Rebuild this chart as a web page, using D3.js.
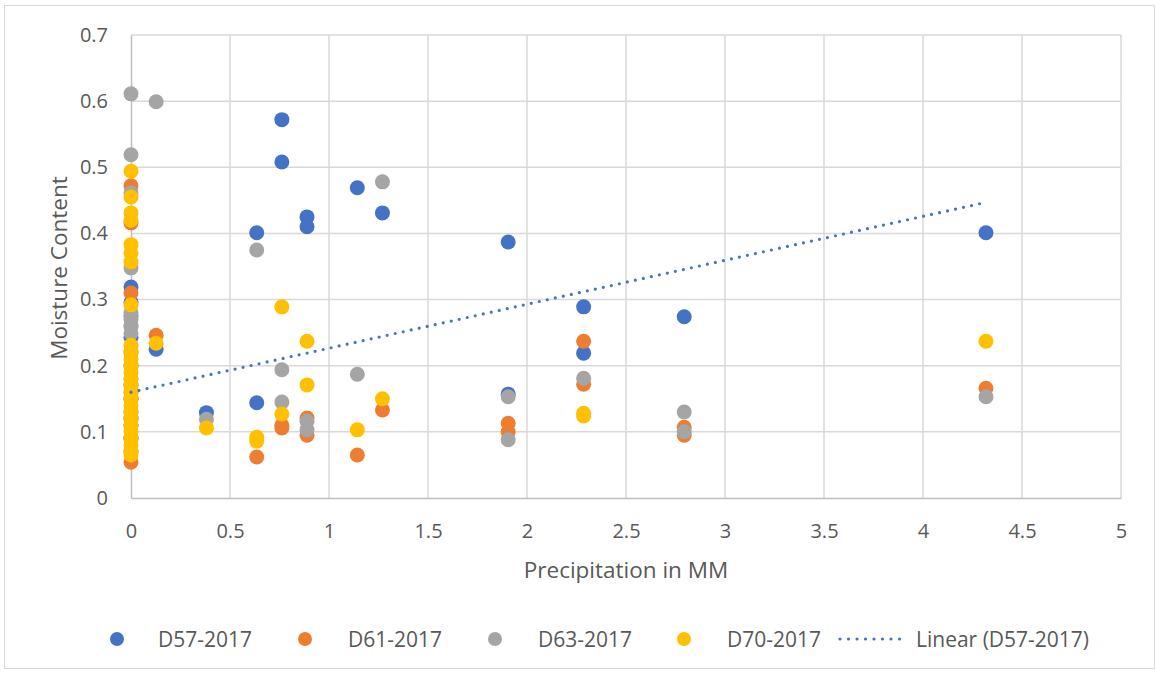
<!DOCTYPE html>
<html>
<head>
<meta charset="utf-8">
<script src="https://cdn.jsdelivr.net/npm/d3@7"></script>
<style>
  body { margin: 0; background: #fff; }
  text { font-family: "Open Sans", "Liberation Sans", sans-serif; fill: #595959; }
</style>
</head>
<body>
<div id="chart"></div>
<script>
// [precipitation mm, moisture content]
const d57 = [
  [0, 0.319], [0, 0.296], [0, 0.275], [0, 0.243], [0, 0.200], [0, 0.170], [0, 0.150], [0, 0.130], [0, 0.110], [0, 0.090],
  [0.127, 0.225], [0.381, 0.129], [0.635, 0.401], [0.635, 0.144],
  [0.762, 0.572], [0.762, 0.508], [0.889, 0.425], [0.889, 0.410],
  [1.143, 0.469], [1.27, 0.431], [1.905, 0.387], [1.905, 0.157],
  [2.286, 0.289], [2.286, 0.219], [2.794, 0.274], [4.318, 0.401]
];
const d61 = [
  [0, 0.472], [0, 0.416], [0, 0.310], [0, 0.260], [0, 0.220], [0, 0.180], [0, 0.150], [0, 0.120], [0, 0.090], [0, 0.070], [0, 0.054],
  [0.127, 0.246], [0.635, 0.062], [0.762, 0.110], [0.762, 0.106],
  [0.889, 0.121], [0.889, 0.095], [1.143, 0.065], [1.27, 0.133],
  [1.905, 0.113], [1.905, 0.100], [2.286, 0.237], [2.286, 0.172],
  [2.794, 0.107], [2.794, 0.095], [4.318, 0.166]
];
const d63 = [
  [0, 0.611], [0, 0.519], [0, 0.461], [0, 0.348], [0, 0.280], [0, 0.270], [0, 0.260], [0, 0.249], [0, 0.200], [0, 0.160], [0, 0.120], [0, 0.090],
  [0.127, 0.599], [0.381, 0.119], [0.635, 0.375], [0.762, 0.194], [0.762, 0.145],
  [0.889, 0.116], [0.889, 0.103], [1.143, 0.187], [1.27, 0.478],
  [1.905, 0.153], [1.905, 0.088], [2.286, 0.181], [2.794, 0.130], [2.794, 0.100], [4.318, 0.153]
];
const d70 = [
  [0, 0.494], [0, 0.455], [0, 0.431], [0, 0.420], [0, 0.383], [0, 0.370], [0, 0.357], [0, 0.292],
  [0, 0.231], [0, 0.220], [0, 0.210], [0, 0.200], [0, 0.190], [0, 0.180], [0, 0.170], [0, 0.160], [0, 0.150],
  [0, 0.140], [0, 0.130], [0, 0.120], [0, 0.110], [0, 0.100], [0, 0.090], [0, 0.080], [0, 0.070], [0, 0.065],
  [0.127, 0.234], [0.381, 0.106], [0.635, 0.092], [0.635, 0.086], [0.762, 0.289], [0.762, 0.127],
  [0.889, 0.237], [0.889, 0.171], [1.143, 0.103], [1.27, 0.150],
  [2.286, 0.128], [2.286, 0.124], [4.318, 0.237]
];
// Linear trendline of D57-2017, endpoints
const trendD57 = [[0, 0.160], [4.318, 0.447]];

const seriesNames = ["D57-2017", "D61-2017", "D63-2017", "D70-2017"];
const seriesData = [d57, d61, d63, d70];
const colors = ["#4472c4", "#ed7d31", "#a5a5a5", "#ffc000"];
const xTicks = [0, 0.5, 1, 1.5, 2, 2.5, 3, 3.5, 4, 4.5, 5];
const yTicks = [0, 0.1, 0.2, 0.3, 0.4, 0.5, 0.6, 0.7];

const width = 1155, height = 674;
const plot = { left: 131, right: 1121, top: 35, bottom: 498 };

const svg = d3.select("#chart").append("svg")
  .attr("width", width)
  .attr("height", height);

svg.append("rect")
  .attr("x", 4.5).attr("y", 5.5)
  .attr("width", 1150).attr("height", 663)
  .attr("fill", "#fff")
  .attr("stroke", "#d9d9d9");

const x = d3.scaleLinear().domain([0, 5]).range([plot.left, plot.right]);
const y = d3.scaleLinear().domain([0, 0.7]).range([plot.bottom, plot.top]);

// gridlines
svg.append("g").selectAll("line")
  .data(xTicks.filter(d => d > 0))
  .join("line")
  .attr("x1", d => x(d)).attr("x2", d => x(d))
  .attr("y1", plot.top).attr("y2", plot.bottom)
  .attr("stroke", "#d9d9d9").attr("stroke-width", 1.5);

svg.append("g").selectAll("line")
  .data(yTicks.filter(d => d > 0))
  .join("line")
  .attr("x1", plot.left).attr("x2", plot.right)
  .attr("y1", d => y(d)).attr("y2", d => y(d))
  .attr("stroke", "#d9d9d9").attr("stroke-width", 1.5);

// axes
const xAxis = svg.append("g")
  .attr("transform", `translate(0,${plot.bottom})`)
  .call(d3.axisBottom(x).tickValues(xTicks).tickSize(0).tickPadding(22).tickFormat(d3.format("")));
const yAxis = svg.append("g")
  .attr("transform", `translate(${plot.left},0)`)
  .call(d3.axisLeft(y).tickValues(yTicks).tickSize(0).tickPadding(23).tickFormat(d3.format("")));

[xAxis, yAxis].forEach(a => {
  a.select(".domain").attr("stroke", "#bfbfbf").attr("stroke-width", 1.5);
  a.selectAll("text").attr("fill", "#595959").style("font-size", "20px")
    .style("font-family", "'Open Sans', 'Liberation Sans', sans-serif");
});
xAxis.selectAll("text").attr("dy", "0.35em").attr("y", 33);

// points
seriesData.forEach((data, i) => {
  svg.append("g").selectAll("circle")
    .data(data)
    .join("circle")
    .attr("cx", d => x(d[0]))
    .attr("cy", d => y(d[1]))
    .attr("r", 7.5)
    .attr("fill", colors[i]);
});

// trendline
svg.append("path")
  .datum(trendD57)
  .attr("d", d3.line().x(d => x(d[0])).y(d => y(d[1])))
  .attr("fill", "none")
  .attr("stroke", "#4472c4")
  .attr("stroke-width", 3.2)
  .attr("stroke-linecap", "round")
  .attr("stroke-dasharray", "0 8.2");

// axis titles
svg.append("text")
  .attr("x", (plot.left + plot.right) / 2 + 0)
  .attr("y", 569)
  .attr("text-anchor", "middle")
  .attr("dominant-baseline", "central")
  .style("font-size", "22.5px")
  .text("Precipitation in MM");

svg.append("text")
  .attr("transform", "translate(58,268) rotate(-90)")
  .attr("text-anchor", "middle")
  .attr("dominant-baseline", "central")
  .style("font-size", "22.5px")
  .text("Moisture Content");

// legend
const legendY = 639;
const legendMarkX = [117, 305, 495, 684];
const legendTextX = [158, 348, 538, 727];
seriesNames.forEach((name, i) => {
  svg.append("circle")
    .attr("cx", legendMarkX[i]).attr("cy", legendY).attr("r", 7)
    .attr("fill", colors[i]);
  svg.append("text")
    .attr("x", legendTextX[i]).attr("y", legendY)
    .attr("dominant-baseline", "central")
    .style("font-size", "21px")
    .text(name);
});
svg.append("line")
  .attr("x1", 840).attr("x2", 908)
  .attr("y1", legendY).attr("y2", legendY)
  .attr("stroke", "#4472c4")
  .attr("stroke-width", 3.2)
  .attr("stroke-linecap", "round")
  .attr("stroke-dasharray", "0 8.5");
svg.append("text")
  .attr("x", 916).attr("y", legendY)
  .attr("dominant-baseline", "central")
  .style("font-size", "21px")
  .text("Linear (D57-2017)");
</script>
</body>
</html>
